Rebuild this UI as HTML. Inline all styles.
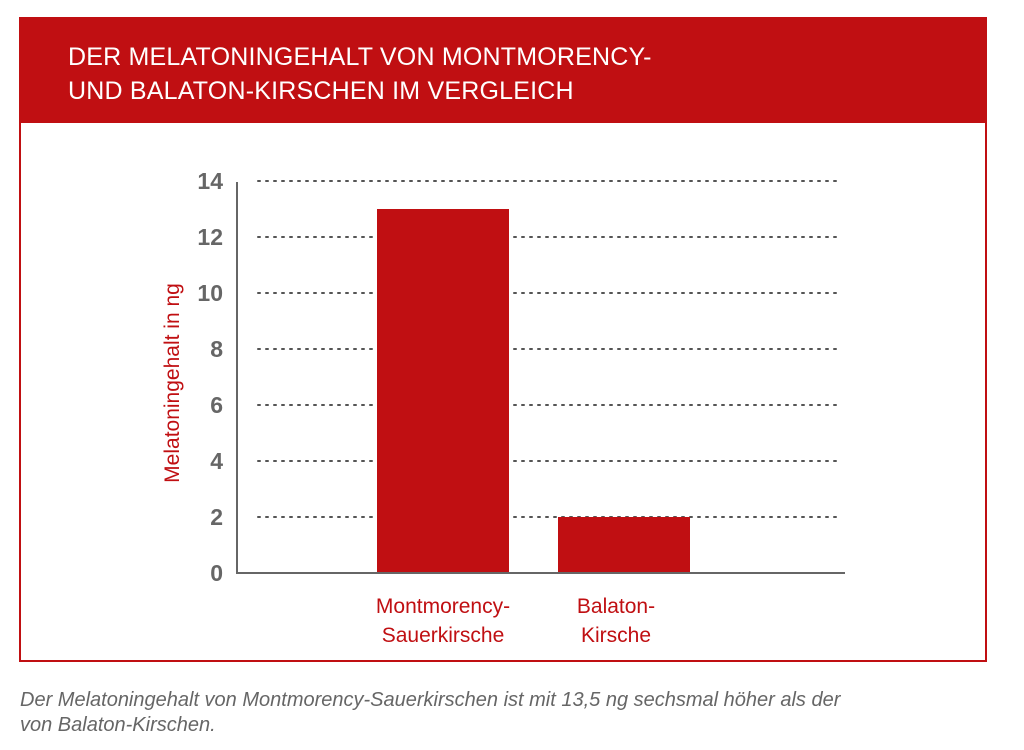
<!DOCTYPE html>
<html><head><meta charset="utf-8"><style>
body{margin:0;width:1024px;height:750px;background:#fff;font-family:"Liberation Sans",sans-serif;position:relative;overflow:hidden}
#frame{position:absolute;left:19px;top:17px;width:964px;height:643px;border:2px solid #c00f12;border-top:none;box-sizing:content-box}
#header{position:absolute;left:19px;top:17px;width:968px;height:106px;background:#c00f12}
#title{position:absolute;left:68px;top:40px;color:#fff;font-size:25px;line-height:34px;letter-spacing:0.2px}
#caption{position:absolute;left:20px;top:688px;color:#666;font-style:italic;font-size:20px;line-height:25px}
</style></head><body>
<div id="frame"></div>
<div id="header"></div>
<div id="title">DER MELATONINGEHALT VON MONTMORENCY-<br>UND BALATON-KIRSCHEN IM VERGLEICH</div>
<svg id="chart" width="1024" height="750" style="position:absolute;left:0;top:0"></svg>
<div id="caption">Der Melatoningehalt von Montmorency-Sauerkirschen ist mit 13,5 ng sechsmal höher als der<br>von Balaton-Kirschen.</div>
<script>
const categories=[["Montmorency-","Sauerkirsche"],["Balaton-","Kirsche"]];
const values=[13,2];
const ticks=[0,2,4,6,8,10,12,14];
const NS="http://www.w3.org/2000/svg";
const svg=document.getElementById('chart');
const y0=573,yTop=181,yMax=14;
const y=v=>y0-(y0-yTop)*v/yMax;
const barX=[377,558],barW=132;
function mk(t,a,txt){const e=document.createElementNS(NS,t);for(const k in a)e.setAttribute(k,a[k]);if(txt!==undefined)e.textContent=txt;svg.appendChild(e);return e;}
ticks.forEach(t=>{
  if(t>0){const g=mk('line',{x1:258,x2:838,y1:y(t),y2:y(t),stroke:'#555','stroke-width':2,'stroke-dasharray':'2,6','stroke-linecap':'round'});
  
  }
  const l=mk('text',{x:223,y:y(t)+8,'text-anchor':'end','font-size':23,'font-weight':'bold',fill:'#666','font-family':'Liberation Sans'},t);
  
  
});
values.forEach((v,i)=>{
  const b=mk('rect',{x:barX[i],y:y(v),width:barW,height:y0-y(v),fill:'#c00f12'});
  
  
  categories[i].forEach((s,j)=>{
    const t=mk('text',{x:barX[i]+barW/2-(i?8:0),y:613+j*29,'text-anchor':'middle','font-size':21,fill:'#c00f12','font-family':'Liberation Sans'},s);
    
    
  });
});
const ya=mk('line',{x1:237,x2:237,y1:182,y2:574,stroke:'#666','stroke-width':2});


const xa=mk('line',{x1:236,x2:845,y1:573,y2:573,stroke:'#666','stroke-width':2});


const yt=mk('text',{x:0,y:0,transform:'translate(179,383) rotate(-90)','text-anchor':'middle','font-size':21,fill:'#c00f12','font-family':'Liberation Sans'},'Melatoningehalt in ng');


</script>
</body></html>
